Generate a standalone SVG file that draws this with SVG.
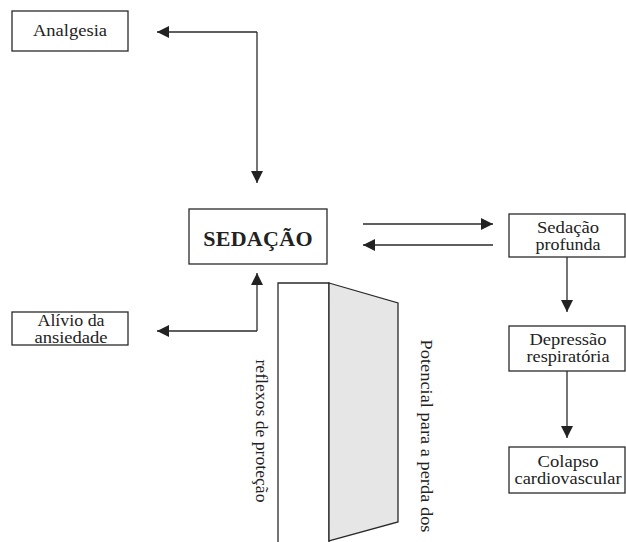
<svg xmlns="http://www.w3.org/2000/svg" width="626" height="542" viewBox="0 0 626 542">
<style>
.box{fill:#fff;stroke:#2a2a2a;stroke-width:1.3}
.t{font-family:"Liberation Serif","Times New Roman",serif;font-size:16px;fill:#222;text-anchor:middle}
.b{font-weight:bold;font-size:22px;letter-spacing:0.3px}
.ln{fill:none;stroke:#2a2a2a;stroke-width:1.3}
</style>
<defs>
<marker id="ah" viewBox="0 0 12 12" refX="12" refY="6" markerWidth="12" markerHeight="12" markerUnits="userSpaceOnUse" orient="auto">
<path d="M0,0 L12,6 L0,12 Z" fill="#222"/>
</marker>
</defs>
<rect width="626" height="542" fill="#fff"/>

<g id="pillar">
<path class="ln" d="M278,542 V283 H329 V542"/>
<polygon points="329,283 398,303 398,522 329,541" fill="#e6e6e6" stroke="#2a2a2a" stroke-width="1.3"/>
<text class="t" transform="translate(256,431) rotate(90)" font-size="17" textLength="143" lengthAdjust="spacingAndGlyphs">reflexos de proteção</text>
<text class="t" transform="translate(421,436) rotate(90)" font-size="17" textLength="193" lengthAdjust="spacingAndGlyphs">Potencial para a perda dos</text>
</g>

<g id="connectors">
<path class="ln" d="M257,32 H157" marker-end="url(#ah)"/>
<path class="ln" d="M257,32 V183" marker-end="url(#ah)"/>
<path class="ln" d="M257,331 V273" marker-end="url(#ah)"/>
<path class="ln" d="M257,331 H157" marker-end="url(#ah)"/>
<path class="ln" d="M363,224 H493" marker-end="url(#ah)"/>
<path class="ln" d="M493,245 H363" marker-end="url(#ah)"/>
<path class="ln" d="M567,257 V312" marker-end="url(#ah)"/>
<path class="ln" d="M567,371 V438" marker-end="url(#ah)"/>
</g>

<g id="analgesia">
<rect class="box" x="12" y="11" width="116" height="40"/>
<text class="t" x="70" y="36" textLength="74" lengthAdjust="spacingAndGlyphs">Analgesia</text>
</g>

<g id="sedacao">
<rect class="box" x="189" y="209" width="138" height="55"/>
<text class="t b" x="258" y="246">SEDAÇÃO</text>
</g>

<g id="alivio">
<rect class="box" x="12" y="312" width="116" height="33"/>
<text class="t" x="71" y="326" font-size="15" textLength="67" lengthAdjust="spacingAndGlyphs">Alívio da</text>
<text class="t" x="71" y="343" font-size="15" textLength="73" lengthAdjust="spacingAndGlyphs">ansiedade</text>
</g>

<g id="sedacao-profunda">
<rect class="box" x="509" y="214" width="116" height="43"/>
<text class="t" x="568" y="233" textLength="62" lengthAdjust="spacingAndGlyphs">Sedação</text>
<text class="t" x="568" y="250" textLength="65" lengthAdjust="spacingAndGlyphs">profunda</text>
</g>

<g id="depressao">
<rect class="box" x="509" y="326" width="116" height="45"/>
<text class="t" x="568" y="345" textLength="77" lengthAdjust="spacingAndGlyphs">Depressão</text>
<text class="t" x="568" y="362" textLength="83" lengthAdjust="spacingAndGlyphs">respiratória</text>
</g>

<g id="colapso">
<rect class="box" x="509" y="447" width="116" height="46"/>
<text class="t" x="568" y="467" textLength="61" lengthAdjust="spacingAndGlyphs">Colapso</text>
<text class="t" x="568" y="484" textLength="107" lengthAdjust="spacingAndGlyphs">cardiovascular</text>
</g>
</svg>
